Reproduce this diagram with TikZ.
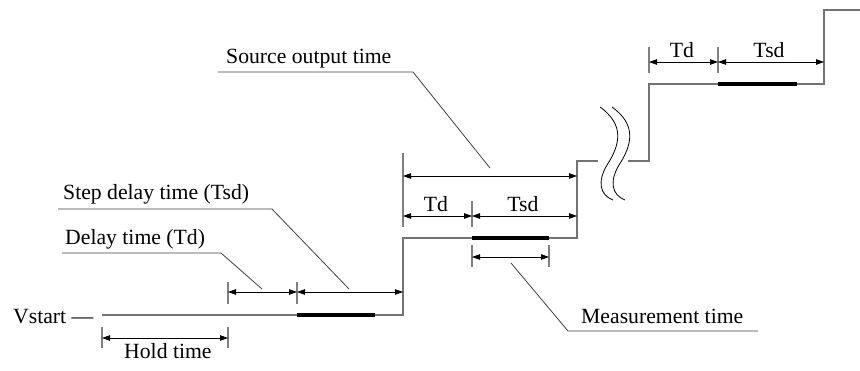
\documentclass[tikz,border=0pt]{standalone}
\usepackage{fontspec}
\setmainfont{Liberation Serif}
\usetikzlibrary{arrows.meta}
\begin{document}
\begin{tikzpicture}[x=1pt,y=-1pt,
  wave/.style={draw=black!55, line width=1.4pt},
  measseg/.style={draw=black, line width=3.5pt},
  ext/.style={draw=black!50, line width=1.2pt},
  dimline/.style={draw=black, line width=0.8pt, {Triangle[length=8pt,width=5.5pt]}-{Triangle[length=8pt,width=5.5pt]}},
  lead/.style={draw=black!75, line width=0.8pt},
  lbl/.style={font=\fontsize{21.7}{26}\selectfont, inner sep=0pt, anchor=base west},
  dlbl/.style={font=\fontsize{21.7}{26}\selectfont, inner sep=0pt, anchor=base},
  brk/.style={draw=black, line width=0.8pt}
]
\useasboundingbox (0,0) rectangle (860,370);

% waveform corner points
\coordinate (w0) at (102,315);
\coordinate (w1) at (403,315);
\coordinate (w2) at (403,238);
\coordinate (w3) at (577,238);
\coordinate (w4) at (577,161);
\coordinate (w5) at (598,161);
\coordinate (w6) at (628,161);
\coordinate (w7) at (649,161);
\coordinate (w8) at (649,84);
\coordinate (w9) at (824,84);
\coordinate (w10) at (824,10);
\coordinate (w11) at (860,10);

\draw[wave] (w0) -- (w1) -- (w2) -- (w3) -- (w4) -- (w5);
\draw[wave] (w6) -- (w7) -- (w8) -- (w9) -- (w10) -- (w11);

% measurement segments
\coordinate (m1a) at (297,315); \coordinate (m1b) at (375,315);
\coordinate (m2a) at (472,238); \coordinate (m2b) at (549,238);
\coordinate (m3a) at (718,84);  \coordinate (m3b) at (797,84);
\draw[measseg] (m1a) -- (m1b);
\draw[measseg] (m2a) -- (m2b);
\draw[measseg] (m3a) -- (m3b);

% break symbol
\draw[brk] (600,107) .. controls (625,125) and (620,145) .. (607,165) .. controls (597,182) and (600,195) .. (613,200);
\draw[brk] (612,107) .. controls (637,125) and (632,145) .. (619,165) .. controls (609,182) and (612,195) .. (625,200);

% extension lines
\draw[ext] (102,327) -- (102,348);
\draw[ext] (228,327) -- (228,348);
\draw[ext] (228,282) -- (228,304);
\draw[ext] (297,282) -- (297,304);
\draw[ext] (403,153) -- (403,227);
\draw[ext] (472,201) -- (472,227);
\draw[ext] (472,245) -- (472,267);
\draw[ext] (549,245) -- (549,267);
\draw[ext] (649,47) -- (649,73);
\draw[ext] (718,47) -- (718,73);

% dimension end points
\coordinate (h1) at (102,338); \coordinate (h2) at (228,338);
\coordinate (d1) at (228,292); \coordinate (d2) at (297,292); \coordinate (d3) at (403,292);
\coordinate (s1) at (403,176); \coordinate (s2) at (577,176);
\coordinate (e1) at (403,216); \coordinate (e2) at (472,216); \coordinate (e3) at (577,216);
\coordinate (q1) at (472,257); \coordinate (q2) at (549,257);
\coordinate (t1) at (649,62);  \coordinate (t2) at (718,62);  \coordinate (t3) at (824,62);

\draw[dimline] (h1) -- (h2);
\draw[dimline] (d1) -- (d2);
\draw[dimline] (d2) -- (d3);
\draw[dimline] (s1) -- (s2);
\draw[dimline] (e1) -- (e2);
\draw[dimline] (e2) -- (e3);
\draw[dimline] (q1) -- (q2);
\draw[dimline] (t1) -- (t2);
\draw[dimline] (t2) -- (t3);

% labels
\node[lbl] (vstart) at (13,323) {Vstart —};
\node[lbl] (hold) at (124,358) {Hold time};
\node[lbl] (delay) at (65,244) {Delay time (Td)};
\node[lbl] (step) at (63,199) {Step delay time (Tsd)};
\node[lbl] (source) at (226,63) {Source output time};
\node[lbl] (meas) at (581,323) {Measurement time};
\node[dlbl] (tdm) at (436,211) {Td};
\node[dlbl] (tsdm) at (523,211) {Tsd};
\node[dlbl] (tdt) at (682,57) {Td};
\node[dlbl] (tsdt) at (769,57) {Tsd};

% leaders
\draw[lead] (262,289) -- (221,253) -- (62,253);
\draw[lead] (349,289) -- (272,209) -- (58,209);
\draw[lead] (490,168) -- (413,72) -- (218,72);
\draw[lead] (511,263) -- (568,331) -- (758,331);
\end{tikzpicture}
\end{document}
